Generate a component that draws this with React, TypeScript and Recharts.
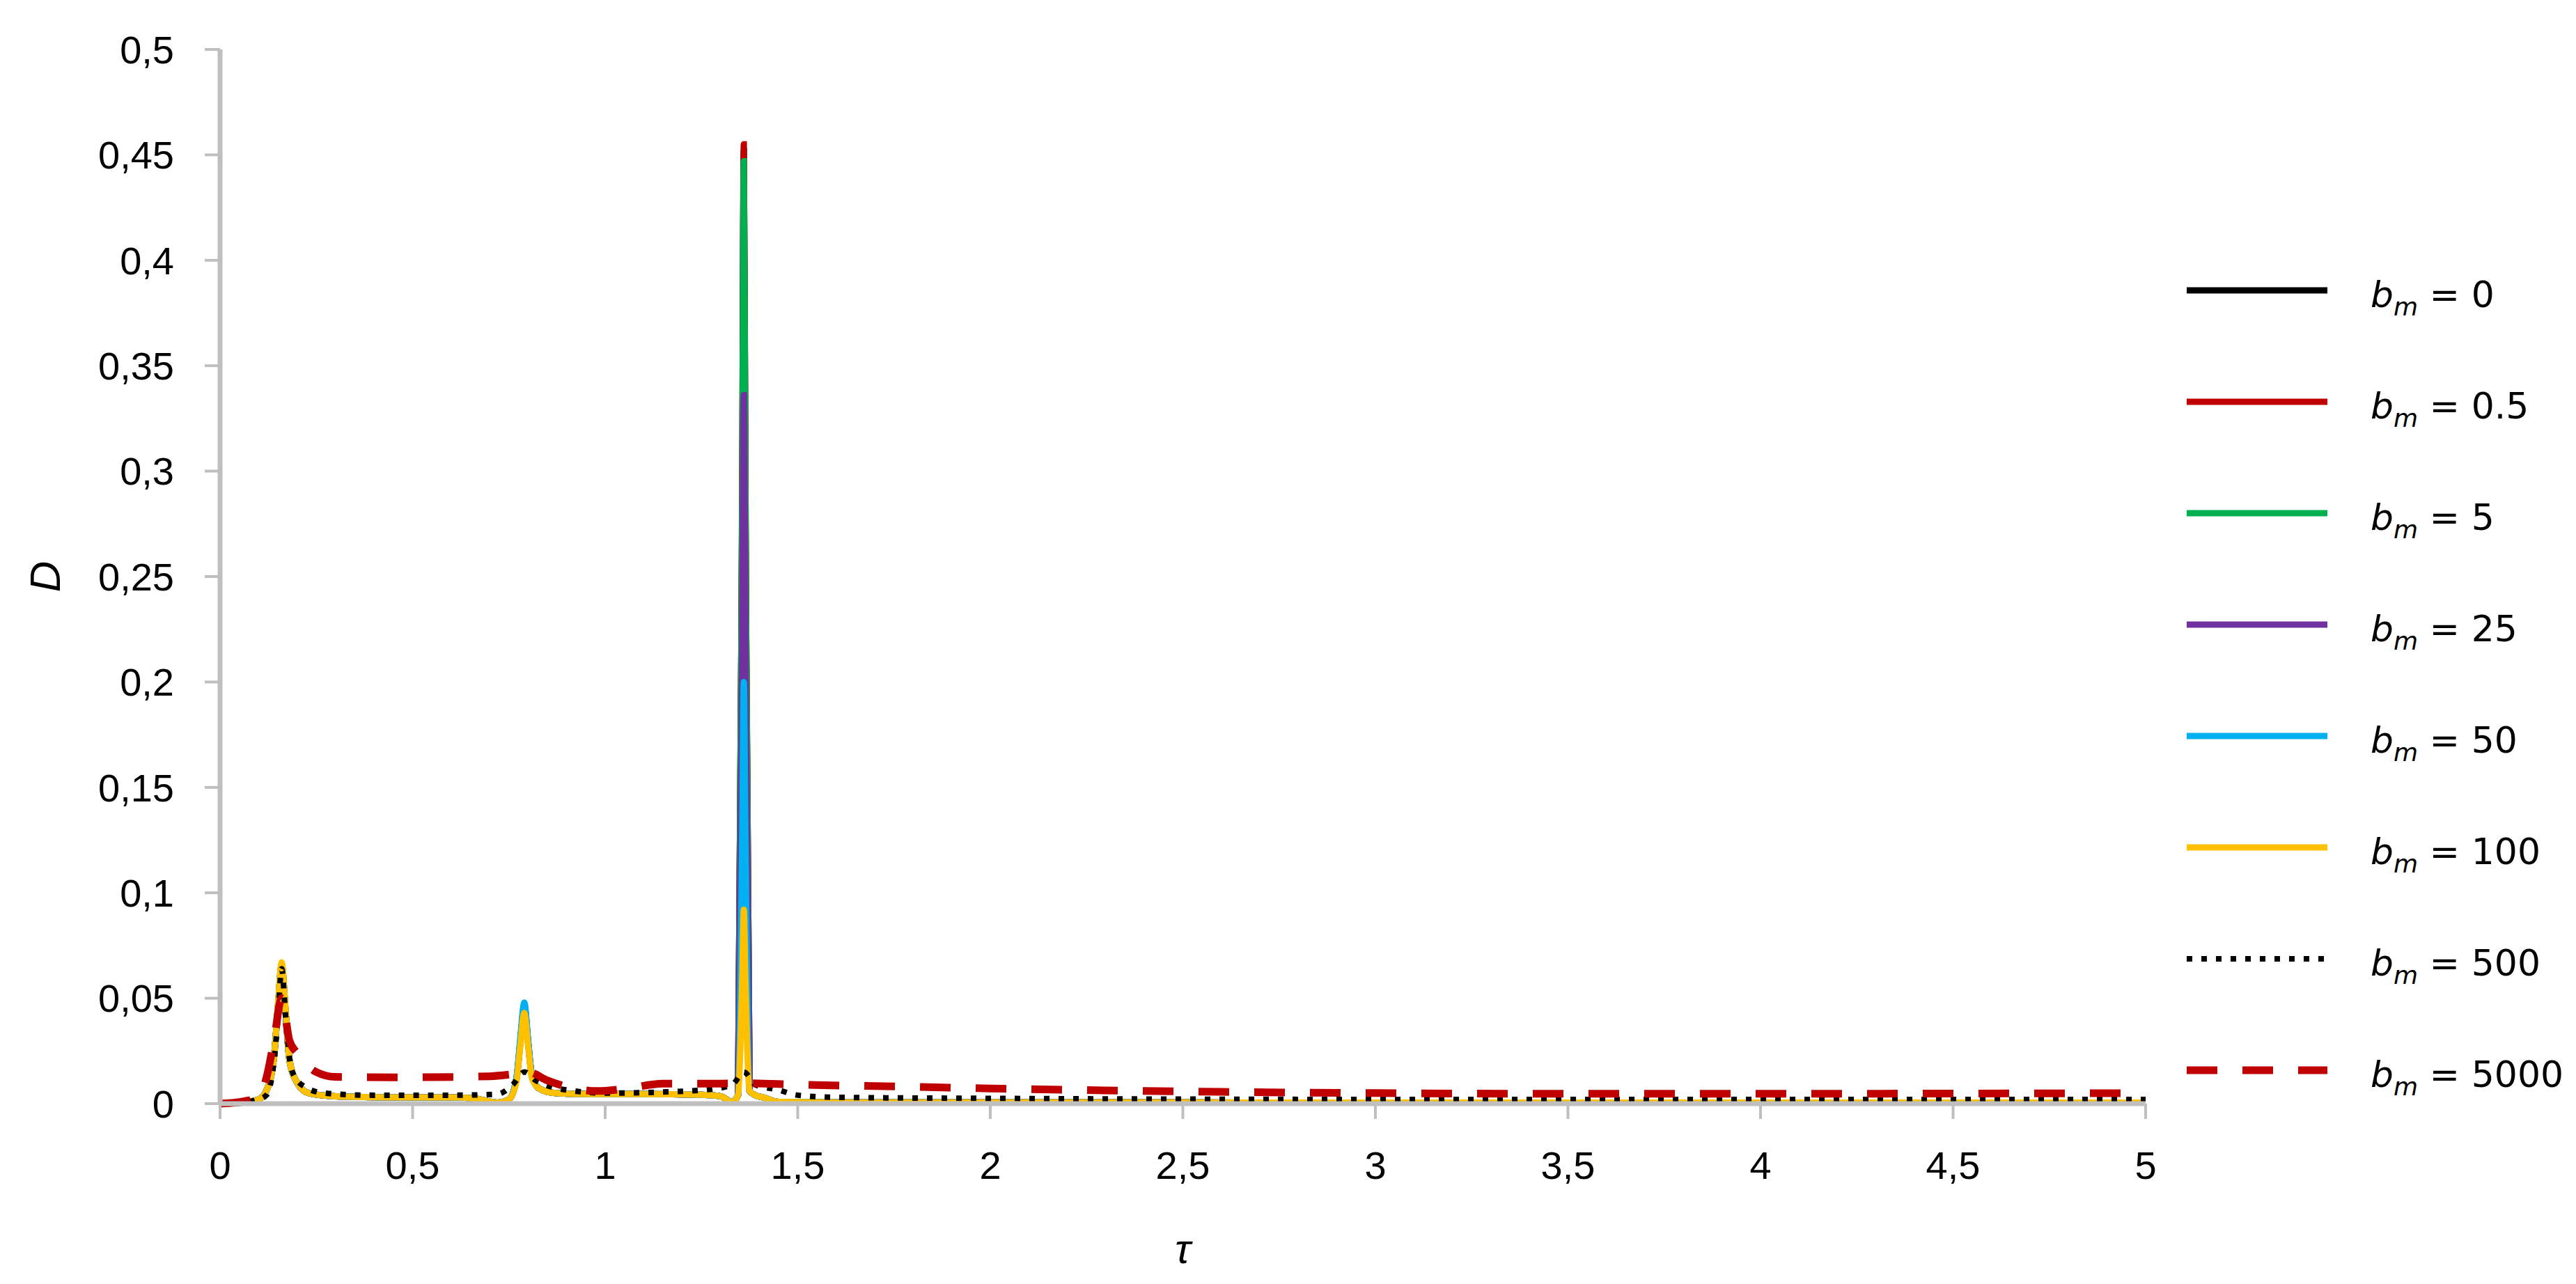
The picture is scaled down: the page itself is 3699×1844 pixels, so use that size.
import React from "react";
import { LineChart, Line, XAxis, YAxis, Label } from "recharts";

// tau grid shared by the solid curves (b_m = 0 ... 100)
const tauSolid = [
	0, 0.05, 0.1, 0.12, 0.14, 0.15, 0.16, 0.17, 0.18, 0.2, 0.23, 0.3, 0.45, 0.6, 0.66, 0.72, 0.75, 0.77,
	0.78, 0.79, 0.8, 0.81, 0.83, 0.87, 0.95, 1.1, 1.25, 1.3, 1.33, 1.345, 1.356, 1.36, 1.364, 1.375, 1.39,
	1.41, 1.45, 1.6, 2, 3, 4, 5,
];

const dBm0 = [
	0, 0.0004, 0.002, 0.006, 0.022, 0.045, 0.065, 0.044, 0.021, 0.01, 0.005, 0.0035, 0.003, 0.003, 0.0025,
	0.0005, 0.002, 0.012, 0.03, 0.046, 0.029, 0.013, 0.007, 0.005, 0.0045, 0.0045, 0.0042, 0.0035, 0.0008,
	0.004, 0.3, 0.452, 0.3, 0.006, 0.004, 0.003, 0.0008, 0.0006, 0.0006, 0.0005, 0.0005, 0.0005,
];
const dBm05 = [
	0, 0.0004, 0.002, 0.006, 0.022, 0.045, 0.065, 0.044, 0.021, 0.01, 0.005, 0.0035, 0.003, 0.003, 0.0025,
	0.0005, 0.002, 0.012, 0.03, 0.046, 0.029, 0.013, 0.007, 0.005, 0.0045, 0.0045, 0.0042, 0.0035, 0.0008,
	0.004, 0.3, 0.455, 0.3, 0.006, 0.004, 0.003, 0.0008, 0.0006, 0.0006, 0.0005, 0.0005, 0.0005,
];
const dBm5 = [
	0, 0.0004, 0.002, 0.006, 0.022, 0.045, 0.066, 0.044, 0.021, 0.01, 0.005, 0.0035, 0.003, 0.003, 0.0025,
	0.0005, 0.002, 0.012, 0.03, 0.046, 0.029, 0.013, 0.007, 0.005, 0.0045, 0.0045, 0.0042, 0.0035, 0.0008,
	0.004, 0.29, 0.447, 0.29, 0.006, 0.004, 0.003, 0.0008, 0.0006, 0.0006, 0.0005, 0.0005, 0.0005,
];
const dBm25 = [
	0, 0.0004, 0.002, 0.006, 0.022, 0.045, 0.066, 0.044, 0.021, 0.01, 0.005, 0.0035, 0.003, 0.003, 0.0025,
	0.0005, 0.002, 0.012, 0.03, 0.047, 0.029, 0.013, 0.007, 0.005, 0.0045, 0.0045, 0.0042, 0.0035, 0.0008,
	0.004, 0.22, 0.336, 0.22, 0.006, 0.004, 0.003, 0.0008, 0.0006, 0.0006, 0.0005, 0.0005, 0.0005,
];
const dBm50 = [
	0, 0.0004, 0.002, 0.006, 0.022, 0.045, 0.066, 0.044, 0.021, 0.01, 0.005, 0.0035, 0.003, 0.003, 0.0025,
	0.0005, 0.002, 0.013, 0.032, 0.048, 0.03, 0.013, 0.007, 0.005, 0.0045, 0.0045, 0.0042, 0.0035, 0.0008,
	0.004, 0.13, 0.2, 0.13, 0.006, 0.004, 0.003, 0.0008, 0.0006, 0.0006, 0.0005, 0.0005, 0.0005,
];
const dBm100 = [
	0, 0.0004, 0.002, 0.006, 0.022, 0.046, 0.067, 0.045, 0.021, 0.01, 0.005, 0.0035, 0.003, 0.003, 0.0025,
	0.0005, 0.002, 0.011, 0.028, 0.043, 0.027, 0.012, 0.007, 0.005, 0.0045, 0.0045, 0.0042, 0.0035, 0.0008,
	0.004, 0.06, 0.092, 0.06, 0.006, 0.004, 0.003, 0.0008, 0.0006, 0.0006, 0.0005, 0.0005, 0.0005,
];

// b_m = 500 (dotted)
const tauBm500 = [
	0, 0.05, 0.1, 0.12, 0.14, 0.15, 0.16, 0.17, 0.18, 0.19, 0.22, 0.27, 0.4, 0.6, 0.72, 0.76, 0.79, 0.82,
	0.86, 0.92, 1.0, 1.15, 1.28, 1.33, 1.36, 1.39, 1.45, 1.5, 1.6, 2, 3, 4, 5,
];
const dBm500 = [
	0, 0.0005, 0.002, 0.004, 0.02, 0.04, 0.064, 0.042, 0.022, 0.014, 0.008, 0.005, 0.004, 0.004, 0.0045,
	0.009, 0.015, 0.011, 0.008, 0.006, 0.005, 0.0055, 0.007, 0.009, 0.015, 0.009, 0.0065, 0.004, 0.003,
	0.0025, 0.002, 0.002, 0.002,
];

// b_m = 5000 (dashed)
const tauBm5000 = [
	0, 0.05, 0.1, 0.12, 0.14, 0.16, 0.18, 0.2, 0.25, 0.3, 0.5, 0.7, 0.76, 0.8, 0.85, 0.9, 0.98, 1.05, 1.15,
	1.3, 1.36, 1.5, 1.8, 2, 2.3, 2.6, 3, 3.5, 4, 4.5, 5,
];
const dBm5000 = [
	0, 0.0008, 0.003, 0.012, 0.03, 0.05, 0.03, 0.024, 0.015, 0.0127, 0.0125, 0.013, 0.014, 0.015, 0.011,
	0.008, 0.006, 0.007, 0.0095, 0.0095, 0.0097, 0.009, 0.008, 0.0072, 0.0063, 0.0056, 0.005, 0.0047,
	0.0047, 0.0048, 0.005,
];

const xTicks = [0, 0.5, 1, 1.5, 2, 2.5, 3, 3.5, 4, 4.5, 5];
const yTicks = [0, 0.05, 0.1, 0.15, 0.2, 0.25, 0.3, 0.35, 0.4, 0.45, 0.5];

const toPoints = (tau: number[], d: number[]) => tau.map((t, i) => ({ t, d: d[i] }));

const series = [
	{ label: "0", tau: tauSolid, d: dBm0, color: "#000000", width: 9, dash: undefined },
	{ label: "0.5", tau: tauSolid, d: dBm05, color: "#c00000", width: 9, dash: undefined },
	{ label: "5", tau: tauSolid, d: dBm5, color: "#00b050", width: 9, dash: undefined },
	{ label: "25", tau: tauSolid, d: dBm25, color: "#7030a0", width: 9, dash: undefined },
	{ label: "50", tau: tauSolid, d: dBm50, color: "#00b0f0", width: 9, dash: undefined },
	{ label: "100", tau: tauSolid, d: dBm100, color: "#ffc000", width: 9, dash: undefined },
	{ label: "500", tau: tauBm500, d: dBm500, color: "#000000", width: 8, dash: "8 13" },
	{ label: "5000", tau: tauBm5000, d: dBm5000, color: "#c00000", width: 11, dash: "44 36" },
];

const fmt = (v: number) => String(v).replace(".", ",");
const tickFont = { fill: "#000", fontSize: 56, fontFamily: "Liberation Sans, Arial, sans-serif" };
const axisGray = "#bfbfbf";

export default function App() {
	return (
		<div style={{ position: "absolute", left: 0, top: 0, width: 3699, height: 1844, background: "#fff" }}>
			<LineChart width={3699} height={1844} margin={{ top: 71, right: 618, bottom: 109, left: 0 }}>
				<XAxis
					type="number"
					dataKey="t"
					domain={[0, 5]}
					ticks={xTicks}
					interval={0}
					tickFormatter={fmt}
					height={150}
					tick={tickFont}
					tickSize={22}
					tickMargin={46}
					axisLine={{ stroke: axisGray, strokeWidth: 7 }}
					tickLine={{ stroke: axisGray, strokeWidth: 4 }}
				>
					<Label
						content={({ viewBox }: any) => (
							<text
								x={viewBox.x + viewBox.width / 2}
								y={viewBox.y + 208}
								textAnchor="middle"
								dominantBaseline="central"
								fontSize={60}
								fontStyle="italic"
								fontFamily="Liberation Sans, Arial, sans-serif"
								fill="#000"
							>
								τ
							</text>
						)}
					/>
				</XAxis>
				<YAxis
					type="number"
					domain={[0, 0.5]}
					ticks={yTicks}
					interval={0}
					tickFormatter={fmt}
					width={316}
					tick={tickFont}
					tickSize={22}
					tickMargin={44}
					axisLine={{ stroke: axisGray, strokeWidth: 7 }}
					tickLine={{ stroke: axisGray, strokeWidth: 4 }}
				>
					<Label
						content={({ viewBox }: any) => {
							const x = viewBox.x + 64;
							const y = viewBox.y + viewBox.height / 2;
							return (
								<text
									x={x}
									y={y}
									transform={`rotate(-90 ${x} ${y})`}
									textAnchor="middle"
									dominantBaseline="central"
									fontSize={62}
									fontStyle="italic"
									fontFamily="Liberation Sans, Arial, sans-serif"
									fill="#000"
								>
									D
								</text>
							);
						}}
					/>
				</YAxis>
				{series.map((s) => (
					<Line
						key={s.label}
						data={toPoints(s.tau, s.d)}
						dataKey="d"
						type="monotone"
						stroke={s.color}
						strokeWidth={s.width}
						strokeDasharray={s.dash}
						dot={false}
						activeDot={false}
						isAnimationActive={false}
					/>
				))}
			</LineChart>

			{/* legend */}
			{series.map((s, i) => (
				<div
					key={s.label}
					style={{
						position: "absolute",
						left: 3140,
						top: 417 + i * 160 - 40,
						height: 80,
						display: "flex",
						alignItems: "center",
						fontFamily: "DejaVu Sans, sans-serif",
						fontSize: 52,
						color: "#000",
						whiteSpace: "nowrap",
					}}
				>
					<svg width={202} height={20}>
						<line
							x1={0}
							y1={10}
							x2={202}
							y2={10}
							stroke={s.color}
							strokeWidth={s.width}
							strokeDasharray={s.dash}
						/>
					</svg>
					<span style={{ marginLeft: 62, position: "relative", top: 6 }}>
						<i>b</i>
						<i style={{ fontSize: 36, position: "relative", top: 12 }}>m</i> = {s.label}
					</span>
				</div>
			))}
		</div>
	);
}
